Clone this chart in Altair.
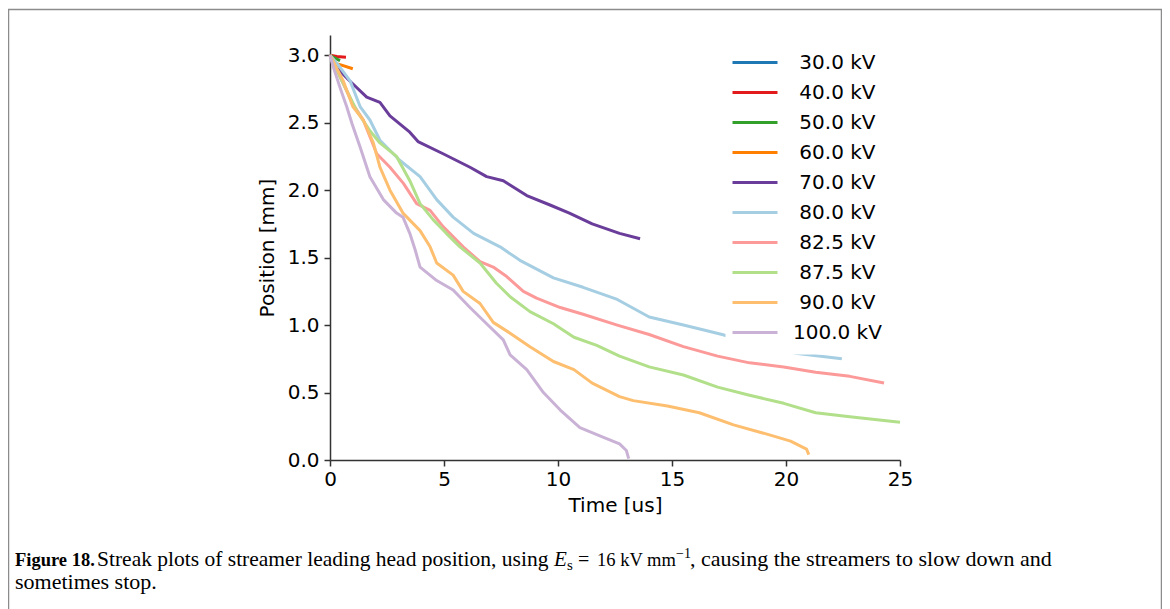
import altair as alt
import pandas as pd

voltages = [30.0, 40.0, 50.0, 60.0, 70.0, 80.0, 82.5, 87.5, 90.0, 100.0]
colors = ["#1f78b4", "#e31a1c", "#33a02c", "#ff7f00", "#6a3d9a",
          "#a6cee3", "#fb9a99", "#b2df8a", "#fdbf6f", "#cab2d6"]

t30 = [0.0, 0.1]
p30 = [3.0, 2.995]
t40 = [0.0, 0.3, 0.7]
p40 = [3.0, 2.99, 2.985]
t50 = [0.0, 0.2, 0.44]
p50 = [3.0, 2.98, 2.96]
t60 = [0.0, 0.22, 0.44, 1.0]
p60 = [3.0, 2.94, 2.93, 2.90]
t70 = [0.0, 0.22, 0.8, 1.61, 2.19, 2.63, 3.5, 3.86, 4.96, 6.14, 6.87, 7.6, 8.63, 9.65, 10.5, 11.5, 12.7, 13.6]
p70 = [3.0, 2.92, 2.82, 2.69, 2.65, 2.55, 2.43, 2.36, 2.27, 2.17, 2.10, 2.07, 1.96, 1.89, 1.83, 1.75, 1.68, 1.64]
t80 = [0.0, 0.4, 0.88, 1.32, 1.75, 2.19, 3.07, 3.95, 4.68, 5.4, 6.3, 7.46, 8.33, 9.8, 11.1, 12.6, 14.0, 15.5, 17.2, 18.6, 20.5, 22.45]
p80 = [3.0, 2.92, 2.81, 2.62, 2.52, 2.37, 2.22, 2.10, 1.93, 1.80, 1.68, 1.58, 1.48, 1.35, 1.28, 1.19, 1.06, 1.0, 0.93, 0.86, 0.79, 0.75]
t825 = [0.0, 0.44, 1.0, 1.46, 2.05, 2.63, 3.22, 3.8, 4.39, 4.96, 5.84, 6.58, 7.16, 7.75, 8.48, 9.06, 10.1, 11.1, 12.6, 14.0, 15.5, 17.0, 18.4, 19.9, 21.3, 22.8, 24.3]
p825 = [3.0, 2.84, 2.64, 2.52, 2.27, 2.17, 2.05, 1.90, 1.85, 1.73, 1.58, 1.47, 1.43, 1.36, 1.25, 1.20, 1.13, 1.08, 1.0, 0.93, 0.84, 0.77, 0.72, 0.69, 0.65, 0.62, 0.57]
t875 = [0.0, 0.5, 1.17, 1.75, 2.19, 2.92, 3.5, 3.95, 4.53, 5.1, 5.7, 6.58, 7.3, 7.9, 8.77, 9.8, 10.7, 11.7, 12.7, 14.0, 15.5, 17.0, 18.4, 19.9, 21.3, 22.8, 25.0]
p875 = [3.0, 2.82, 2.59, 2.44, 2.35, 2.25, 2.07, 1.90, 1.78, 1.68, 1.58, 1.46, 1.31, 1.21, 1.10, 1.01, 0.91, 0.85, 0.77, 0.69, 0.63, 0.54, 0.48, 0.42, 0.35, 0.32, 0.28]
t90 = [0.0, 0.58, 1.0, 1.46, 1.9, 2.19, 2.63, 3.2, 3.95, 4.39, 4.68, 5.4, 5.84, 6.58, 7.16, 7.9, 8.77, 9.8, 10.7, 11.5, 12.7, 13.3, 14.8, 16.2, 17.7, 19.2, 20.2, 20.9, 21.0]
p90 = [3.0, 2.81, 2.62, 2.52, 2.35, 2.17, 2.0, 1.83, 1.70, 1.58, 1.46, 1.37, 1.25, 1.16, 1.02, 0.94, 0.84, 0.73, 0.67, 0.57, 0.47, 0.44, 0.40, 0.35, 0.26, 0.19, 0.14, 0.08, 0.04]
t100 = [0.0, 0.15, 0.44, 0.73, 0.97, 1.32, 1.75, 2.34, 2.92, 3.2, 3.5, 3.73, 3.95, 4.68, 5.4, 6.14, 6.87, 7.6, 7.9, 8.63, 9.36, 10.1, 10.96, 11.97, 12.7, 13.0, 13.1]
p100 = [3.0, 2.91, 2.76, 2.62, 2.49, 2.32, 2.10, 1.93, 1.83, 1.80, 1.68, 1.56, 1.43, 1.33, 1.26, 1.13, 1.01, 0.89, 0.78, 0.67, 0.50, 0.37, 0.24, 0.17, 0.12, 0.07, 0.01]

times = [t30, t40, t50, t60, t70, t80, t825, t875, t90, t100]
positions = [p30, p40, p50, p60, p70, p80, p825, p875, p90, p100]

# labels padded to a common width, as in the reference legend
# (a zero-width joiner keeps the padding space from being trimmed)
labels = [("\u200d\u00a0" if v < 100 else "") + f"{v:.1f} kV" for v in voltages]

rows = []
for k, (lab, ts, ps) in enumerate(zip(labels, times, positions)):
    for i, (t, p) in enumerate(zip(ts, ps)):
        rows.append({"series": lab, "k": k, "i": i, "t": t, "pos": p})
df = pd.DataFrame(rows)

W, H = 570, 425
PL, PT = 322, 27

lines = alt.Chart(df).mark_line(strokeWidth=3, strokeJoin="round").encode(
    x=alt.X("t:Q", scale=alt.Scale(domain=[0, 25], nice=False, zero=False),
            axis=alt.Axis(values=[0, 5, 10, 15, 20, 25], title="Time [us]", format="d",
                          labelFlush=False, labelPadding=3, titlePadding=6)),
    y=alt.Y("pos:Q", scale=alt.Scale(domain=[0, 3.15], nice=False),
            axis=alt.Axis(values=[0, 0.5, 1.0, 1.5, 2.0, 2.5, 3.0], format=".1f",
                          labelFlush=False, title="Position [mm]", labelPadding=5,
                          titlePadding=10)),
    color=alt.Color("series:N", sort=labels,
                    scale=alt.Scale(domain=labels, range=colors),
                    legend=alt.Legend(title=None, orient="none", legendX=395.5, legendY=5.5,
                                      fillColor="white", padding=12,
                                      symbolType="M-2,0H4", symbolSize=225,
                                      symbolStrokeWidth=3, labelFontSize=20,
                                      labelFont="DejaVu Sans", labelColor="black",
                                      labelOffset=35.5, rowPadding=10, labelLimit=400)),
    order=alt.Order("i:Q"),
    detail="k:N",
)

one = pd.DataFrame({"a": [0]})

border = alt.Chart(one).mark_rect(fill=None, stroke="#8c8c8c", strokeWidth=1.5).encode(
    x=alt.value(-321.5), x2=alt.value(831.5), y=alt.value(-25.5), y2=alt.value(700)
)

CAP_FONT = "Liberation Serif"
Y1 = 531
Y2 = 554


def cap(text, xabs, y, size, weight="normal", style="normal"):
    return alt.Chart(one).mark_text(
        text=text, align="left", baseline="alphabetic", font=CAP_FONT,
        fontSize=size, fontWeight=weight, fontStyle=style, color="black"
    ).encode(x=alt.value(xabs - 330), y=alt.value(y))


caption = [
    cap("Figure 18.", 15, Y1, 18.5, weight="bold"),
    cap("Streak plots of streamer leading head position, using", 97, Y1, 21.5),
    cap("E", 554, Y1, 21, style="italic"),
    cap("s", 567, Y1 + 4, 15),
    cap("=", 578, Y1, 20),
    cap("16 kV mm", 597, Y1, 18.5),
    cap("\u22121", 676, Y1 - 8, 14),
    cap(", causing the streamers to slow down and", 690, Y1, 22),
    cap("sometimes stop.", 15, Y2, 22),
]

chart = alt.layer(border, lines, *caption).properties(
    width=W, height=H,
    autosize=alt.AutoSizeParams(type="none"),
    padding={"left": PL, "top": PT, "right": 1154 - PL - W, "bottom": 601 - PT - H},
).configure_view(stroke=None).configure_axis(
    domainColor="#333333", domainWidth=1.5, tickColor="#333333", tickWidth=1.5,
    tickSize=6, labelFont="DejaVu Sans", labelFontSize=20, labelColor="black",
    titleFont="DejaVu Sans", titleFontSize=20, titleFontWeight="normal",
    titleColor="black", grid=False
)

chart.save("out.html", embed_options={"renderer": "svg", "actions": False})
